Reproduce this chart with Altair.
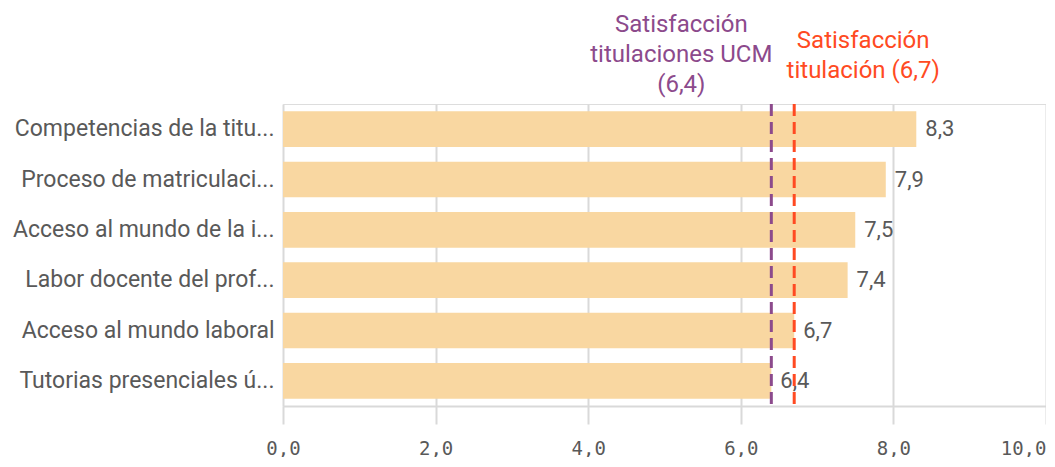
import altair as alt
import pandas as pd

categories = [
    "Competencias de la titu...",
    "Proceso de matriculaci...",
    "Acceso al mundo de la i...",
    "Labor docente del prof...",
    "Acceso al mundo laboral",
    "Tutorias presenciales ú...",
]
values = [8.3, 7.9, 7.5, 7.4, 6.7, 6.4]
x_ticks = [0, 2, 4, 6, 8, 10]

ucm_value = [6.4]
ucm_label = ["Satisfacción", "titulaciones UCM", "(6,4)"]
tit_value = [6.7]
tit_label = ["Satisfacción", "titulación (6,7)"]

def fmt(v):
    return f"{v:.1f}".replace(".", ",")

df = pd.DataFrame({"cat": categories, "val": values, "lab": [fmt(v) for v in values]})
df_ucm = pd.DataFrame({"v": ucm_value})
df_tit = pd.DataFrame({"v": tit_value})

GREY = "#595959"
GRID = "#d9d9d9"
PURPLE = "#8c4a8c"
RED = "#ff4a22"
FONT = "Roboto"

x_enc = alt.X(
    "val:Q",
    title=None,
    scale=alt.Scale(domain=[0, 10], nice=False, zero=True),
    axis=alt.Axis(
        values=x_ticks,
        labelExpr="replace(format(datum.value, '.1f'), '.', ',')",
        grid=True,
        gridColor=GRID,
        gridWidth=2,
        domainColor=GRID,
        domainWidth=2,
        tickColor=GRID,
        tickWidth=2,
        tickSize=18,
        labelFont="DejaVu Sans Mono",
        labelFontSize=19,
        labelColor=GREY,
        labelPadding=15,
        labelAlign={"condition": {"test": "datum.value == 10", "value": "right"}, "value": "center"},
    ),
)
y_enc = alt.Y(
    "cat:N",
    sort=categories,
    title=None,
    scale=alt.Scale(paddingInner=0.29, paddingOuter=0.145),
    axis=alt.Axis(
        domain=False,
        ticks=False,
        grid=False,
        labelPadding=9,
        labelFont=FONT,
        labelFontSize=23,
        labelColor=GREY,
        labelLimit=400,
    ),
)

bars = alt.Chart(df).mark_bar(color="#f9d7a1").encode(x=x_enc, y=y_enc)
texts = alt.Chart(df).mark_text(
    align="left", baseline="middle", dx=9, font=FONT, fontSize=22, color=GREY
).encode(x="val:Q", y=alt.Y("cat:N", sort=categories), text="lab:N")

rule_ucm = alt.Chart(df_ucm).mark_rule(
    color=PURPLE, strokeWidth=3, strokeDash=[12, 6]
).encode(x="v:Q")
rule_tit = alt.Chart(df_tit).mark_rule(
    color=RED, strokeWidth=3, strokeDash=[12, 6]
).encode(x="v:Q")

ann_ucm = alt.Chart(df_ucm).mark_text(
    text=ucm_label, align="center", baseline="middle", dx=-90, lineHeight=30,
    font=FONT, fontSize=24, color=PURPLE
).encode(x="v:Q", y=alt.value(-79))
ann_tit = alt.Chart(df_tit).mark_text(
    text=tit_label, align="center", baseline="middle", dx=69, lineHeight=30,
    font=FONT, fontSize=24, color=RED
).encode(x="v:Q", y=alt.value(-63))

chart = alt.layer(bars, texts, rule_ucm, rule_tit, ann_ucm, ann_tit).properties(
    width=763,
    height=302,
    autosize=alt.AutoSizeParams(type="none"),
    padding={"left": 275, "top": 96, "right": 0, "bottom": 51},
).configure_view(stroke=None).configure(background="white")

chart.save("out.html", embed_options={"renderer": "svg", "actions": False})
